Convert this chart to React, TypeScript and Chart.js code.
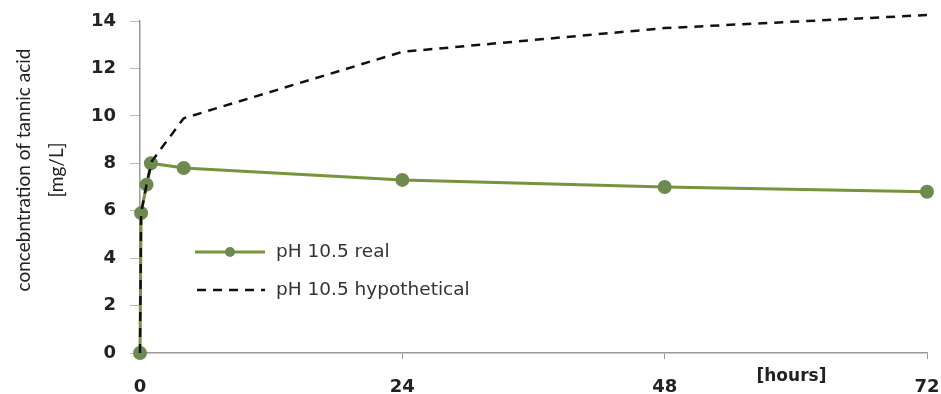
import React, { useEffect, useRef } from "react";
import { Chart, registerables } from "chart.js";

Chart.register(...registerables);

const hoursReal = [0, 0.1, 0.6, 1, 4, 24, 48, 72];
const valuesReal = [0, 5.9, 7.1, 8.0, 7.8, 7.3, 7.0, 6.8];
const hoursHypo = [0, 0.1, 0.6, 1.1, 4, 24, 48, 72];
const valuesHypo = [0, 5.9, 7.1, 8.1, 9.9, 12.7, 13.7, 14.25];
const xTicks = [0, 24, 48, 72];
const yTitleLines = ["concebntration of tannic acid", "[mg/L]"];
const xTitle = "[hours]";
const labels = ["pH 10.5 real", "pH 10.5 hypothetical"];

const GREEN = "#77933C";
const MARKER = "#6d8a50";
const FONT = "Lato, 'Open Sans', sans-serif";
const WIDE = "'DejaVu Sans', sans-serif";

const overlayPlugin = {
  id: "overlay",
  afterDraw(chart: any) {
    const ctx = chart.ctx;
    const ca = chart.chartArea;
    const xs = chart.scales.x;
    ctx.save();
    // y title
    ctx.fillStyle = "#222";
    ctx.font = `19px ${FONT}`;
    ctx.textAlign = "center";
    ctx.textBaseline = "middle";
    const cy = 170;
    const cxs = [24, 57];
    yTitleLines.forEach((t, i) => {
      ctx.save();
      ctx.translate(cxs[i], cy);
      ctx.rotate(-Math.PI / 2);
      ctx.fillText(t, 0, 0);
      ctx.restore();
    });
    // x title
    ctx.font = `bold 17px ${WIDE}`;
    ctx.fillText(xTitle, xs.getPixelForValue(59.6), ca.bottom + 24);
    // legend
    const ds = chart.data.datasets;
    const lx0 = 195, lx1 = 265, tx = 276;
    const ys = [252, 290];
    ctx.textAlign = "left";
    ctx.font = `18.5px ${WIDE}`;
    // real
    ctx.strokeStyle = GREEN;
    ctx.lineWidth = 3;
    ctx.beginPath();
    ctx.moveTo(lx0, ys[0]);
    ctx.lineTo(lx1, ys[0]);
    ctx.stroke();
    ctx.fillStyle = MARKER;
    ctx.beginPath();
    ctx.arc((lx0 + lx1) / 2, ys[0], 5, 0, Math.PI * 2);
    ctx.fill();
    ctx.fillStyle = "#333";
    ctx.fillText(ds[0].label, tx, ys[0]);
    // hypothetical
    ctx.strokeStyle = "#111";
    ctx.lineWidth = 2.5;
    ctx.setLineDash([9, 7]);
    ctx.beginPath();
    ctx.moveTo(lx0 + 2, ys[1]);
    ctx.lineTo(lx1, ys[1]);
    ctx.stroke();
    ctx.setLineDash([]);
    ctx.fillStyle = "#333";
    ctx.fillText(ds[1].label, tx, ys[1]);
    ctx.restore();
  },
};

export default function App() {
  const ref = useRef<HTMLCanvasElement>(null);
  useEffect(() => {
    if (!ref.current) return;
    const chart = new Chart(ref.current, {
      type: "line",
      data: {
        datasets: [
          {
            label: labels[0],
            data: hoursReal.map((h, i) => ({ x: h, y: valuesReal[i] })),
            borderColor: GREEN,
            borderWidth: 3,
            pointRadius: 5.5,
            pointBackgroundColor: MARKER,
            pointBorderColor: MARKER,
            tension: 0,
            order: 2,
            clip: false,
          },
          {
            label: labels[1],
            data: hoursHypo.map((h, i) => ({ x: h, y: valuesHypo[i] })),
            borderColor: "#111",
            borderWidth: 2.5,
            borderDash: [9, 7],
            pointRadius: 0,
            tension: 0,
            order: 1,
            clip: false,
          },
        ],
      },
      options: {
        animation: false,
        responsive: false,
        maintainAspectRatio: false,
        layout: { padding: { top: 21, right: 14, left: 0, bottom: 0 } },
        plugins: { legend: { display: false }, tooltip: { enabled: false } },
        scales: {
          x: {
            type: "linear",
            min: 0,
            max: 72,
            afterBuildTicks: (s: any) => {
              s.ticks = xTicks.map((v) => ({ value: v }));
            },
            afterFit: (s: any) => {
              s.height = 41;
              s.paddingRight = 0;
              s.paddingLeft = 0;
            },
            ticks: {
              font: { family: WIDE, size: 18, weight: "bold" },
              color: "#222",
              padding: 18,
            },
            grid: {
              drawOnChartArea: false,
              drawTicks: true,
              tickLength: 6,
              color: "#999",
            },
            border: { color: "#999", width: 1.5 },
          },
          y: {
            min: 0,
            max: 14,
            ticks: {
              stepSize: 2,
              font: { family: WIDE, size: 18, weight: "bold" },
              color: "#222",
              padding: 14,
            },
            afterFit: (s: any) => {
              s.width = 140;
              s.paddingTop = 0;
              s.paddingBottom = 0;
            },
            grid: {
              drawOnChartArea: false,
              drawTicks: true,
              tickLength: 10,
              color: "#bbb",
            },
            border: { color: "#999", width: 1.5 },
          },
        },
      },
      plugins: [overlayPlugin],
    });
    return () => chart.destroy();
  }, []);
  return (
    <div style={{ position: "fixed", left: 0, top: 0, width: 941, height: 394, background: "#fff" }}>
      <canvas ref={ref} width={941} height={394} />
    </div>
  );
}
